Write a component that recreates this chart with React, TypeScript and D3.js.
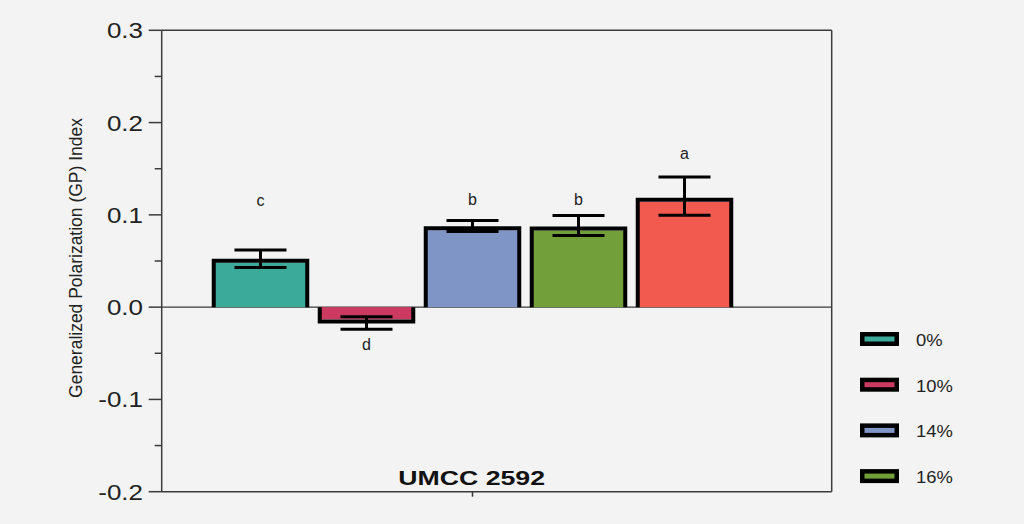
import React from "react";
import * as d3 from "d3";

const categories = ["0%", "10%", "14%", "16%", "18%"];
const values = [0.0503, -0.0155, 0.0855, 0.0853, 0.1163];
const errLow = [0.043, -0.024, 0.082, 0.0777, 0.0997];
const errHigh = [0.062, -0.0105, 0.094, 0.0993, 0.141];
const letters = ["c", "d", "b", "b", "a"];
const letterPos = [0.116, -0.04, 0.117, 0.117, 0.167];
const colors = ["#3BAA9B", "#CC3A62", "#7F95C5", "#739F3B", "#F25A50"];
const legendItems = ["0%", "10%", "14%", "16%"];
const yTicks = [-0.2, -0.1, 0.0, 0.1, 0.2, 0.3];
const yMinorTicks = [-0.15, -0.05, 0.05, 0.15, 0.25];
const groupLabel = "UMCC 2592";
const yTitle = "Generalized Polarization (GP) Index";

const W = 1024;
const H = 524;
const FONT = "'Liberation Sans', Arial, Helvetica, sans-serif";
const AX = "#3a3a3a";

export default function App() {
  const left = 161.7;
  const right = 831.7;
  const y = d3.scaleLinear().domain([-0.2, 0.3]).range([491.7, 30.3]);
  const x = d3
    .scaleBand<string>()
    .domain(categories)
    .range([207.5, 737.5])
    .paddingInner(0.08)
    .paddingOuter(0.04);
  const bw = x.bandwidth();
  const y0 = y(0);
  const sw = 4;

  return (
    <svg
      width={W}
      height={H}
      style={{ position: "absolute", left: 0, top: 0, background: "#F3F3F3" }}
    >
      <rect x={0} y={0} width={W} height={H} fill="#F3F3F3" />
      {/* frame */}
      <line x1={left} x2={right} y1={y(0.3)} y2={y(0.3)} stroke={AX} strokeWidth={1.5} />
      <line x1={right} x2={right} y1={y(0.3)} y2={y(-0.2)} stroke={AX} strokeWidth={1.5} />
      <line x1={left} x2={right} y1={y(-0.2)} y2={y(-0.2)} stroke={AX} strokeWidth={1.5} />
      <line x1={left} x2={left} y1={y(0.3)} y2={y(-0.2)} stroke={AX} strokeWidth={1.5} />
      <line x1={left} x2={right} y1={y0} y2={y0} stroke={AX} strokeWidth={1.2} />
      {/* x tick */}
      <line
        x1={(x("14%") as number) + bw / 2}
        x2={(x("14%") as number) + bw / 2}
        y1={y(-0.2)}
        y2={y(-0.2) + 5}
        stroke={AX}
        strokeWidth={1.5}
      />
      {/* y ticks */}
      {yTicks.map((t) => (
        <g key={t}>
          <line x1={left - 13} x2={left} y1={y(t)} y2={y(t)} stroke={AX} strokeWidth={1.5} />
          <text
            transform={`translate(143,${y(t) + 8}) scale(1.18,1)`}
            textAnchor="end"
            fontFamily={FONT}
            fontSize={22}
            fill="#222"
          >
            {d3.format(".1f")(t).replace("−", "-")}
          </text>
        </g>
      ))}
      {yMinorTicks.map((t) => (
        <line key={t} x1={left - 7} x2={left} y1={y(t)} y2={y(t)} stroke={AX} strokeWidth={1.5} />
      ))}
      {/* y title */}
      <text
        transform={`translate(82,258) rotate(-90) scale(1,1.1)`}
        textAnchor="middle"
        fontFamily={FONT}
        fontSize={17.5}
        fill="#222"
      >
        {yTitle}
      </text>
      {/* bars */}
      {categories.map((c, i) => {
        const bx = x(c) as number;
        const yv = y(values[i]);
        const pos = values[i] >= 0;
        const edge = pos ? yv + sw / 2 : yv - sw / 2;
        const xl = bx + sw / 2;
        const xr = bx + bw - sw / 2;
        const top = Math.min(edge, y0);
        const h = Math.abs(edge - y0);
        return (
          <g key={c}>
            <rect x={xl} y={top} width={xr - xl} height={h} fill={colors[i]} />
            <path
              d={`M${xl},${y0} L${xl},${yv} L${xr},${yv} L${xr},${y0}`}
              fill="none"
              stroke="#000"
              strokeWidth={sw}
            />
          </g>
        );
      })}
      {/* error bars */}
      {categories.map((c, i) => {
        const cx = (x(c) as number) + bw / 2;
        return (
          <g key={c} stroke="#000" strokeWidth={3}>
            <line x1={cx} x2={cx} y1={y(errLow[i])} y2={y(errHigh[i])} />
            <line x1={cx - 26} x2={cx + 26} y1={y(errLow[i])} y2={y(errLow[i])} />
            <line x1={cx - 26} x2={cx + 26} y1={y(errHigh[i])} y2={y(errHigh[i])} />
          </g>
        );
      })}
      {/* significance letters */}
      {categories.map((c, i) => (
        <text
          key={c}
          x={(x(c) as number) + bw / 2}
          y={y(letterPos[i]) + 5.5}
          textAnchor="middle"
          fontFamily={FONT}
          fontSize={16}
          fill="#222"
        >
          {letters[i]}
        </text>
      ))}
      {/* group label */}
      <text
        transform={`translate(398.3,485) scale(1.27,1)`}
        fontFamily={FONT}
        fontSize={21}
        fontWeight="bold"
        fill="#111"
      >
        {groupLabel}
      </text>
      {/* legend */}
      {legendItems.map((l, i) => {
        const ly = 332 + i * 45.7;
        return (
          <g key={l}>
            <rect
              x={860 + 2.25}
              y={ly + 2.25}
              width={34.5}
              height={9.5}
              fill={colors[i]}
              stroke="#000"
              strokeWidth={4.5}
            />
            <text
              transform={`translate(916,${ly + 14}) scale(1.15,1)`}
              fontFamily={FONT}
              fontSize={16}
              fill="#222"
            >
              {l}
            </text>
          </g>
        );
      })}
    </svg>
  );
}
